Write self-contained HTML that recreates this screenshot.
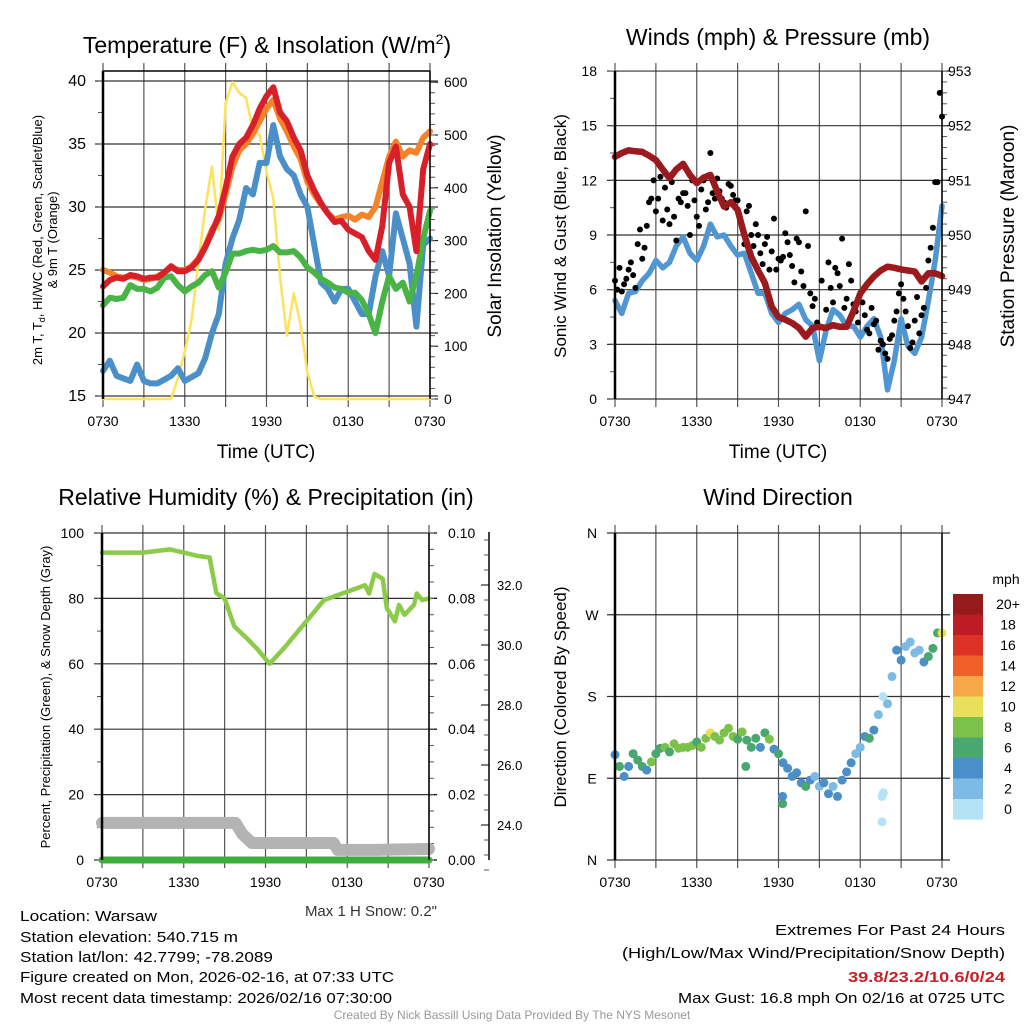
<!DOCTYPE html>
<html><head><meta charset="utf-8"><style>
html,body{margin:0;padding:0;background:#fff;}
svg{display:block;font-family:"Liberation Sans",Arial,sans-serif;}
</style></head><body>
<svg id="chart" width="1024" height="1024" viewBox="0 0 1024 1024" xmlns="http://www.w3.org/2000/svg">
<rect width="1024" height="1024" fill="#fff"/>
<g id="g1"></g>
<g id="g2"></g>
<g id="g3"></g>
<g id="g4"></g>
<g id="txt">
<text x="267" y="53" font-size="23" text-anchor="middle">Temperature (F) &amp; Insolation (W/m<tspan dy="-9" font-size="14">2</tspan><tspan dy="9">)</tspan></text>
<text x="778" y="45" font-size="23" text-anchor="middle">Winds (mph) &amp; Pressure (mb)</text>
<text x="266" y="505" font-size="23" text-anchor="middle">Relative Humidity (%) &amp; Precipitation (in)</text>
<text x="778" y="505" font-size="23" text-anchor="middle">Wind Direction</text>
<text x="266" y="458" font-size="19" text-anchor="middle">Time (UTC)</text>
<text x="778" y="458" font-size="19" text-anchor="middle">Time (UTC)</text>
<text transform="translate(42,240) rotate(-90)" font-size="13" text-anchor="middle">2m T, T<tspan font-size="9" dy="3">d</tspan><tspan dy="-3">, HI/WC (Red, Green, Scarlet/Blue)</tspan></text>
<text transform="translate(57,240) rotate(-90)" font-size="13" text-anchor="middle">&amp; 9m T (Orange)</text>
<text transform="translate(501,236) rotate(-90)" font-size="19" text-anchor="middle">Solar Insolation (Yellow)</text>
<text transform="translate(566,236) rotate(-90)" font-size="17" text-anchor="middle">Sonic Wind &amp; Gust (Blue, Black)</text>
<text transform="translate(1014,236) rotate(-90)" font-size="19" text-anchor="middle">Station Pressure (Maroon)</text>
<text transform="translate(50,697) rotate(-90)" font-size="13" text-anchor="middle">Percent, Precipitation (Green), &amp; Snow Depth (Gray)</text>
<text transform="translate(566,697) rotate(-90)" font-size="17" text-anchor="middle">Direction (Colored By Speed)</text>
<text x="437" y="916" font-size="15" text-anchor="end" fill="#333">Max 1 H Snow: 0.2"</text>
<text x="20" y="921" font-size="15" textLength="137" lengthAdjust="spacingAndGlyphs">Location: Warsaw</text>
<text x="20" y="942" font-size="15" textLength="218" lengthAdjust="spacingAndGlyphs">Station elevation: 540.715 m</text>
<text x="20" y="962" font-size="15" textLength="253" lengthAdjust="spacingAndGlyphs">Station lat/lon: 42.7799; -78.2089</text>
<text x="20" y="982" font-size="15" textLength="374" lengthAdjust="spacingAndGlyphs">Figure created on Mon, 2026-02-16, at 07:33 UTC</text>
<text x="20" y="1003" font-size="15" textLength="372" lengthAdjust="spacingAndGlyphs">Most recent data timestamp: 2026/02/16 07:30:00</text>
<text x="775" y="935" font-size="15" textLength="230" lengthAdjust="spacingAndGlyphs">Extremes For Past 24 Hours</text>
<text x="622" y="958" font-size="15" textLength="383" lengthAdjust="spacingAndGlyphs">(High/Low/Max Wind/Precipitation/Snow Depth)</text>
<text x="848" y="982" font-size="15" font-weight="bold" fill="#c8202a" textLength="157" lengthAdjust="spacingAndGlyphs">39.8/23.2/10.6/0/24</text>
<text x="678" y="1003" font-size="15" textLength="327" lengthAdjust="spacingAndGlyphs">Max Gust: 16.8 mph On 02/16 at 0725 UTC</text>
<text x="512" y="1019" font-size="12" fill="#999" text-anchor="middle">Created By Nick Bassill Using Data Provided By The NYS Mesonet</text>
</g>
</svg>
<script>
// ---------- data (half-hourly, t = 0..24 h from 0730 UTC) ----------
const xTickLabels = ["0730","1330","1930","0130","0730"];
const tempRed = [23.7,24.2,24.4,24.3,24.6,24.5,24.3,24.4,24.4,24.8,25.3,24.9,24.9,25.2,25.8,26.8,28.0,29.3,31.5,34.0,35.0,35.5,36.5,37.8,38.8,39.5,37.5,36.8,35.5,34.5,32.5,31.3,30.3,29.5,28.8,28.9,28.2,27.9,27.6,26.5,25.8,28.5,33.5,34.8,31.0,30.0,26.5,33.0,35.0];
const tempOrange = [25.0,24.8,24.5,24.4,24.5,24.4,24.2,24.3,24.5,24.8,25.2,25.0,25.0,25.3,25.9,26.9,28.2,29.0,31.0,33.2,34.5,35.0,35.8,36.8,37.8,38.5,37.0,36.0,34.8,33.8,32.0,31.0,30.2,29.5,29.0,29.2,29.3,29.0,29.4,29.2,30.0,32.0,34.0,35.2,34.0,34.5,34.3,35.5,36.0];
const tempBlue = [17.0,17.8,16.6,16.4,16.2,17.5,16.2,16.0,16.0,16.3,16.6,17.2,16.2,16.5,16.8,18.0,20.0,21.5,25.5,27.5,29.0,31.5,31.0,33.5,33.5,36.5,34.0,33.0,32.5,31.0,30.0,27.0,24.0,23.5,22.5,23.5,23.5,22.5,21.5,21.5,24.5,26.5,24.5,29.5,27.5,25.5,20.5,27.0,27.5];
const tempGreen = [22.2,22.8,22.7,22.8,23.8,23.5,23.5,23.3,23.6,24.4,24.5,23.8,23.3,23.7,24.0,24.6,24.9,23.6,24.8,26.3,26.3,26.5,26.6,26.5,26.6,26.9,26.4,26.4,26.5,26.0,25.2,24.8,24.3,24.0,23.6,23.5,23.2,23.2,22.6,21.5,20.0,22.5,24.5,23.5,24.0,22.5,24.5,27.5,29.7];
const solar = [0,0,0,0,0,0,0,0,0,0,0,40,90,150,260,360,440,320,560,600,580,570,510,500,430,380,230,120,200,140,50,5,0,0,0,0,0,0,0,0,0,0,0,0,0,0,0,0,0];
const windSpeed = [5.4,4.7,5.8,5.9,6.5,6.9,7.6,7.2,7.5,8.4,8.9,8.0,7.6,8.4,9.6,8.9,9.0,8.4,7.9,8.0,6.9,5.8,5.8,4.7,4.2,4.7,4.9,5.2,4.35,4.0,2.1,3.8,4.9,4.6,4.0,4.0,3.4,4.0,4.4,3.4,0.5,2.1,4.4,2.9,2.5,3.4,5.4,7.6,10.6];
const pressure = [951.43,951.5,951.55,951.53,951.52,951.45,951.37,951.2,951.04,951.2,951.3,951.1,950.95,951.05,951.1,950.8,950.52,950.6,950.46,950.0,949.6,949.35,949.12,948.69,948.5,948.45,948.39,948.3,948.14,948.3,948.32,948.3,948.35,948.32,948.32,948.6,948.93,949.1,949.24,949.35,949.42,949.4,949.37,949.35,949.33,949.15,949.3,949.3,949.25];
const gustA = [6.5,7.2,6.3,7.1,6.8,8.5,7.7,9.5,11.0,10.3,12.2,11.6,9.6,10.0,11.0,11.3,10.6,12.0,10.0,11.5,10.4,13.5,11.0,11.4,10.8,11.8,11.2,10.9,9.4,10.3,9.0,9.6,8.0,8.5,7.1,9.9,7.7,7.8,8.6,7.3,8.8,7.0,10.3,5.8,5.5,4.0,3.9,7.5,5.3,6.9,8.8,5.5,6.5,4.8,5.8,4.6,3.6,4.1,2.7,3.0,2.2,3.5,4.8,6.3,4.8,2.8,4.3,3.6,5.0,7.6,9.4,11.9,15.5];
const gustB = [6.0,5.9,6.6,7.5,6.1,9.3,8.3,10.8,12.0,11.0,9.8,10.4,11.9,8.7,10.8,11.3,9.0,10.9,9.5,12.0,10.8,11.3,12.1,11.0,10.5,11.7,10.9,9.8,8.5,10.6,8.4,9.0,7.4,8.9,8.1,7.1,7.6,9.1,7.9,6.4,8.6,6.2,8.4,5.1,4.2,6.5,4.9,6.1,7.2,6.2,5.0,7.4,5.2,4.2,5.3,3.8,5.0,4.3,3.2,2.5,3.3,4.3,5.8,5.5,4.0,3.1,5.6,4.6,6.1,8.3,11.9,16.8];
const rhTimes = [0,3,5,6,7,7.9,8.4,9,9.7,10.7,11.4,12.3,13.4,14.4,15.4,16.3,17.3,18.3,19.3,19.6,20,20.6,20.9,21.5,21.8,22.2,22.9,23.1,23.5,24];
const rhValues = [94,94,95,94,93,92.5,81.6,80,71.5,67.5,64.5,60,65,70,75,79.5,81,82.5,84,81.5,87.5,86,77,73,78,75,78,81.5,79.5,80];
const snowTimes = [0,9.8,10.3,11,12,17,17.3,20,24];
const snowDepth = [24.07,24.07,23.7,23.4,23.4,23.4,23.17,23.17,23.2];
const precip = [0,0];
const dirTimes = [0,0.33,0.67,1,1.33,1.67,2,2.33,2.67,3,3.33,3.67,4,4.33,4.67,5,5.33,5.67,6,6.33,6.67,7,7.33,7.67,8,8.33,8.67,9,9.33,9.67,10,10.33,10.67,11,11.33,11.67,12,12.33,12.67,13,13.33,13.67,14,14.33,14.67,15,15.33,15.67,16,16.33,16.67,17,17.33,17.67,18,18.33,18.67,19,19.33,19.67,20,20.33,20.67,21,21.33,21.67,22,22.33,22.67,23,23.33,23.67,24,9.6,12.3,12.3,19.6,19.6,19.7];
const dirValues = [116,103,92,103,117,110,103,99,108,117,123,124,119,128,123,124,124,126,130,124,134,140,136,132,140,145,136,133,141,132,124,134,124,140,133,122,117,107,101,92,96,85,81,88,92,81,85,73,81,70,88,97,107,117,124,136,134,143,160,180,172,202,231,220,235,240,228,231,218,224,233,250,250,103,62,70,70,42,74];
const dirSpeeds = [4,6,4,5,6,6,6,5,8,6,6,8,6,8,8,8,8,8,6,8,8,10,8,8,8,8,8,6,8,6,6,6,4,6,8,4,6,4,4,4,4,4,6,4,2,2,4,4,2,4,4,4,4,2,2,4,6,4,2,0,2,2,4,4,2,2,2,2,4,6,6,6,10,6,6,4,0,0,0];
const cbLabels = ["20+","18","16","14","12","10","8","6","4","2","0"];
const cbColors = ["#951a1c","#bd1c24","#dd3327","#f0612a","#f6a746","#e8e05a","#7cc24a","#48a86f","#4a8fc7","#7cbbe5","#b5e3f6"];
const dirLabels = ["N","E","S","W","N"];

const NS="http://www.w3.org/2000/svg";
function mk(parent,tag,attrs){const e=document.createElementNS(NS,tag);for(const k in attrs)e.setAttribute(k,attrs[k]);parent.appendChild(e);return e;}
function half(i){return i*0.5;}

function frame(g,L,R,T,B,xs){
  for(let h=0;h<=24;h+=3){
    const x=xs(h);
    const ln=mk(g,'line',{x1:x,x2:x,y1:T-8,y2:B+8,stroke:'#555','stroke-width':1.2});
    
    
  }
  xTickLabels.forEach((s,i)=>{
    const t=mk(g,'text',{x:xs(i*6),y:B+27,'font-size':14,'text-anchor':'middle'});t.textContent=s;
    
    
  });
}
function hgrid(g,L,R,y){
  const ln=mk(g,'line',{x1:L-8,x2:R+8,y1:y,y2:y,stroke:'#333','stroke-width':1.2});
  
  
}
function label(g,x,y,s,anchor,size,name){
  const t=mk(g,'text',{x:x,y:y+5,'font-size':size||14,'text-anchor':anchor});t.textContent=s;
  
  
  return t;
}
function minor(g,x,y1,y2,n,dir){
  for(let i=0;i<=n;i++){const y=y1+(y2-y1)*i/n;mk(g,'line',{x1:x,x2:x+dir*5,y1:y,y2:y,stroke:'#555','stroke-width':1});}
}
function spine(g,L,R,T,B){
  mk(g,'line',{x1:L,x2:L,y1:T,y2:B,stroke:'#000','stroke-width':2.5});
  mk(g,'line',{x1:R,x2:R,y1:T,y2:B,stroke:'#000','stroke-width':1.5});
}
function path(g,xs,ys,color,w,name,times,vals){
  let d='';vals.forEach((v,i)=>{d+=(i?'L':'M')+xs(times[i]).toFixed(1)+','+ys(v).toFixed(1);});
  const p=mk(g,'path',{d:d,fill:'none',stroke:color,'stroke-width':w,'stroke-linejoin':'round','stroke-linecap':'round'});
  
  
  return p;
}
const halfTimes=tempRed.map((v,i)=>half(i));

// ---------- Panel 1 ----------
(function(){
  const g=document.getElementById('g1');
  const L=103,R=430,T=71,B=399;
  const xs=h=>L+(R-L)*h/24;
  const ys=v=>396-(v-15)*12.6;
  const ysR=v=>399-v*0.528;
  frame(g,L,R,T,B,xs);
  for(let v=15;v<=40;v+=5){hgrid(g,L,R,ys(v));label(g,86,ys(v),String(v),'end',16,'y-tick-label');}
  mk(g,'line',{x1:L,x2:R,y1:T,y2:T,stroke:'#000','stroke-width':1.5});
  minor(g,L,ys(40),ys(15),10,-1);
  for(let v=0;v<=600;v+=100){mk(g,'line',{x1:R,x2:R+8,y1:ysR(v),y2:ysR(v),stroke:'#000'});label(g,444,ysR(v),String(v),'start',14,'y-tick-label-right');}
  minor(g,R,ysR(600),ysR(0),30,1);
  path(g,xs,ysR,'#fde25a',2.5,'solar-line',halfTimes,solar);
  path(g,xs,ys,'#4a8fc8',6,'heat-index-line',halfTimes,tempBlue);
  path(g,xs,ys,'#48b446',6,'dewpoint-line',halfTimes,tempGreen);
  path(g,xs,ys,'#f5832a',6,'temp-9m-line',halfTimes,tempOrange);
  path(g,xs,ys,'#d7202a',6,'temp-2m-line',halfTimes,tempRed);
  spine(g,L,R,T,B);
})();

// ---------- Panel 2 ----------
(function(){
  const g=document.getElementById('g2');
  const L=615,R=942,T=71,B=399;
  const xs=h=>L+(R-L)*h/24;
  const ys=v=>B-v*18.22;
  const ysP=v=>B-(v-947)*54.67;
  frame(g,L,R,T,B,xs);
  for(let v=0;v<=18;v+=3){hgrid(g,L,R,ys(v));label(g,597,ys(v),String(v),'end',14,'y-tick-label');}
  minor(g,L,ys(18),ys(0),12,-1);
  for(let v=947;v<=953;v++){mk(g,'line',{x1:R,x2:R+8,y1:ysP(v),y2:ysP(v),stroke:'#000'});label(g,948,ysP(v),String(v),'start',14,'y-tick-label-right');}
  minor(g,R,ysP(953),ysP(947),30,1);
  path(g,xs,ys,'#4f96d2',5.5,'sonic-wind-line',halfTimes,windSpeed);
  const drawG=(arr,off)=>arr.forEach((v,i)=>{
    const c=mk(g,'circle',{cx:xs(Math.min(24,i/3+off)),cy:ys(v),r:3,fill:'#000'});
    
    
  });
  drawG(gustA,0);drawG(gustB,1/6);
  path(g,xs,ysP,'#9b1a1e',6.5,'pressure-line',halfTimes,pressure);
  spine(g,L,R,T,B);
})();

// ---------- Panel 3 ----------
(function(){
  const g=document.getElementById('g3');
  const L=102,R=429,T=533,B=860;
  const xs=h=>L+(R-L)*h/24;
  const ys=v=>B-v*3.27;
  const ysPr=v=>B-v*3270;
  const ysS=v=>825-(v-24)*30;
  frame(g,L,R,T,B,xs);
  for(let v=0;v<=100;v+=20){hgrid(g,L,R,ys(v));label(g,84,ys(v),String(v),'end',14,'y-tick-label');}
  minor(g,L,ys(100),ys(0),10,-1);
  for(let v=0;v<=10;v+=2){mk(g,'line',{x1:R,x2:R+8,y1:ysPr(v/100),y2:ysPr(v/100),stroke:'#000'});label(g,448,ysPr(v/100),(v/100).toFixed(2),'start',14,'y-tick-label-right');}
  minor(g,R,ysPr(0.1),ysPr(0),20,1);
  mk(g,'line',{x1:489,x2:489,y1:532,y2:860,stroke:'#000','stroke-width':1.5});
  minor(g,489,ysS(33.5),ysS(22.5),22,-1);
  for(let v=24;v<=32;v+=2){label(g,497,ysS(v),v.toFixed(1),'start',13,'snow-tick-label');mk(g,'line',{x1:489,x2:481,y1:ysS(v),y2:ysS(v),stroke:'#000'});}
  path(g,xs,ysS,'#b3b3b3',12,'snow-depth-line',snowTimes,snowDepth);
  path(g,xs,ysPr,'#3fae3f',7,'precip-line',[0,24],precip);
  path(g,xs,ys,'#8ccb4a',4.5,'humidity-line',rhTimes,rhValues);
  spine(g,L,R,T,B);
})();

// ---------- Panel 4 ----------
(function(){
  const g=document.getElementById('g4');
  const L=615,R=942,T=533,B=860;
  const xs=h=>L+(R-L)*h/24;
  const ys=d=>B-d*(B-T)/360;
  frame(g,L,R,T,B,xs);
  dirLabels.forEach((s,i)=>{hgrid(g,L,R,ys(i*90));label(g,592,ys(i*90),s,'middle',14,'direction-tick-label');});
  dirTimes.forEach((t,i)=>{
    const idx=Math.min(10,Math.floor(dirSpeeds[i]/2));
    const c=mk(g,'circle',{cx:xs(t),cy:ys(dirValues[i]),r:4.5,fill:cbColors[10-idx]});
    
    
  });
  spine(g,L,R,T,B);
  label(g,1006,579,'mph','middle',14,'colorbar-title');
  cbColors.forEach((col,i)=>{
    const r=mk(g,'rect',{x:953,y:594+i*20.5,width:30,height:20.6,fill:col});
    
    
    label(g,1008,604+i*20.5,cbLabels[i],'middle',14,'colorbar-label');
  });
})();
</script>
</body></html>
